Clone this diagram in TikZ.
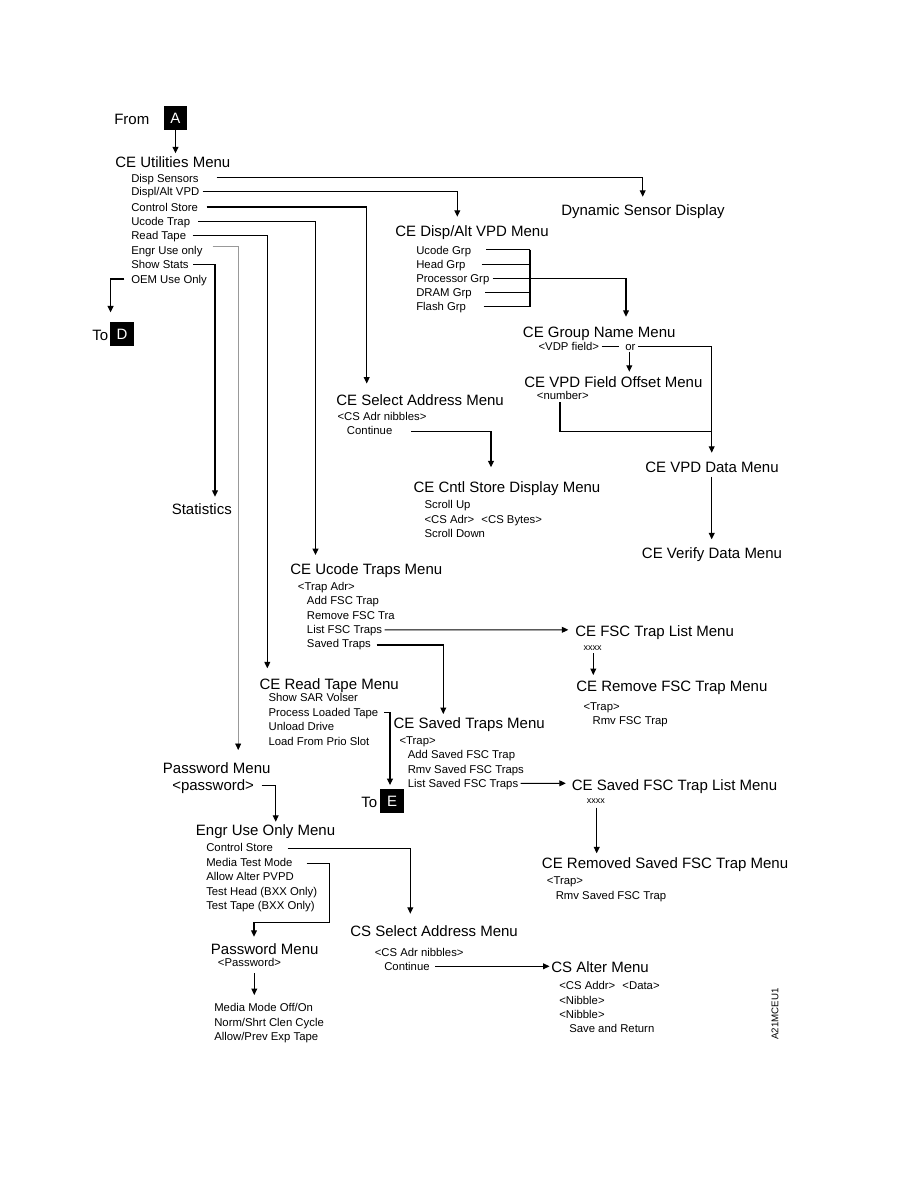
\documentclass[tikz,border=0pt]{standalone}
\usepackage{fontspec}
\setmainfont{Liberation Sans}
\usetikzlibrary{arrows.meta,calc}
\tikzset{
  hd/.style={anchor=west, inner sep=0pt, font=\fontsize{11.25pt}{13pt}\selectfont, text height=8.1pt, text depth=0pt},
  it/.style={anchor=west, inner sep=0pt, font=\fontsize{8.5pt}{10pt}\selectfont, text height=6.1pt, text depth=0pt},
  sm/.style={anchor=west, inner sep=0pt, font=\fontsize{6.75pt}{8pt}\selectfont, text height=3.5pt, text depth=0pt},
  tagbox/.style={fill=black, text=white, inner sep=0pt, minimum width=17.5pt, minimum height=17.5pt, font=\fontsize{11.25pt}{13pt}\selectfont},
  ln/.style={line width=0.8pt, black},
  arr/.style={line width=0.8pt, black, -{Triangle[length=4.8pt,width=4.4pt,color=black]}},
  grayarr/.style={line width=0.5pt, black!40, -{Triangle[length=4.8pt,width=4.4pt,color=black]}}
}
\begin{document}
\begin{tikzpicture}[x=0.75pt,y=-0.75pt]
\fill[white] (0,0) rectangle (918,1188);
\useasboundingbox (0,0) rectangle (918,1188);

% ---------- top ----------
\node[hd] (from) at (114,119.5) {From};
\node[tagbox] (A) at (175.5,118) {A};
\node[hd] (util) at (115,161.7) {CE Utilities Menu};
\node[it] (ds)  at (131,178)   {Disp Sensors};
\node[it] (dv)  at (131,191.7) {Displ/Alt VPD};
\node[it] (cs)  at (131,207)   {Control Store};
\node[it] (ut)  at (131,221.3) {Ucode Trap};
\node[it] (rt)  at (131,235.7) {Read Tape};
\node[it] (eu)  at (131,250)   {Engr Use only};
\node[it] (ss)  at (131,264.3) {Show Stats};
\node[it] (oem) at (131,279)   {OEM Use Only};
\node[hd] (toD) at (92,335) {To};
\node[tagbox] (D) at (122,334) {D};

\node[hd] (dsd) at (561,210) {Dynamic Sensor Display};
\node[hd] (vpd) at (395,231) {CE Disp/Alt VPD Menu};
\node[it] (g1) at (416,250)   {Ucode Grp};
\node[it] (g2) at (416,264.3) {Head Grp};
\node[it] (g3) at (416,278.7) {Processor Grp};
\node[it] (g4) at (416,292.7) {DRAM Grp};
\node[it] (g5) at (416,306.7) {Flash Grp};

\node[hd] (gnm) at (522.7,331.7) {CE Group Name Menu};
\node[it] (vdp) at (538.3,346.7) {<VDP field>};
\node[it] (or)  at (625,346.7) {or};
\node[hd] (fom) at (524,381.7) {CE VPD Field Offset Menu};
\node[it] (num) at (536.7,395) {<number>};
\node[hd] (vdm) at (645,466.7) {CE VPD Data Menu};
\node[hd] (ver) at (641.7,553.3) {CE Verify Data Menu};

\node[hd] (sam) at (336,400) {CE Select Address Menu};
\node[it] (san) at (337.3,416) {<CS Adr nibbles>};
\node[it] (sac) at (346.7,430.7) {Continue};
\node[hd] (csd) at (413.3,487.3) {CE Cntl Store Display Menu};
\node[it] (csd1) at (424.3,504.3) {Scroll Up};
\node[it] (csd2) at (424.3,519.3) {<CS Adr>\hspace{3pt} <CS Bytes>};
\node[it] (csd3) at (424.3,533.3) {Scroll Down};

\node[hd] (stat) at (171.5,509.3) {Statistics};

% ---------- middle ----------
\node[hd] (utm) at (290,569.3) {CE Ucode Traps Menu};
\node[it] (uta) at (297.7,586) {<Trap Adr>};
\node[it] (ut1) at (306.7,600.7) {Add FSC Trap};
\node[it] (ut2) at (306.7,615)   {Remove FSC Tra};
\node[it] (ut3) at (306.7,629.3) {List FSC Traps};
\node[it] (ut4) at (306.7,643.7) {Saved Traps};

\node[hd] (ftl) at (575,630.7) {CE FSC Trap List Menu};
\node[sm] (x1) at (583.3,648) {xxxx};
\node[hd] (rfm) at (576,686) {CE Remove FSC Trap Menu};
\node[it] (rf1) at (583.3,706) {<Trap>};
\node[it] (rf2) at (592.3,720) {Rmv FSC Trap};

\node[hd] (rtm) at (259.3,684) {CE Read Tape Menu};
\node[it] (rt1) at (268.3,697.7) {Show SAR Volser};
\node[it] (rt2) at (268.3,712.3) {Process Loaded Tape};
\node[it] (rt3) at (268.3,726.7) {Unload Drive};
\node[it] (rt4) at (268.3,741)   {Load From Prio Slot};

\node[hd] (stm) at (393.3,723.3) {CE Saved Traps Menu};
\node[it] (st0) at (399.3,740.3) {<Trap>};
\node[it] (st1) at (407.5,754)   {Add Saved FSC Trap};
\node[it] (st2) at (407.5,769)   {Rmv Saved FSC Traps};
\node[it] (st3) at (407.5,783.3) {List Saved FSC Traps};

\node[hd] (sfl) at (571.5,785.5) {CE Saved FSC Trap List Menu};
\node[sm] (x2) at (586.7,801.5) {xxxx};
\node[hd] (rsm) at (541.7,863.3) {CE Removed Saved FSC Trap Menu};
\node[it] (rs1) at (546.7,880.5) {<Trap>};
\node[it] (rs2) at (555.5,895)   {Rmv Saved FSC Trap};

\node[hd] (toE) at (361,802.5) {To};
\node[tagbox] (E) at (392,801) {E};

% ---------- bottom ----------
\node[hd] (pw1)  at (162.7,768.3) {Password Menu};
\node[hd] (pw1p) at (172,785.3) {<password>};
\node[hd] (eum)  at (195.7,830) {Engr Use Only Menu};
\node[it] (eu1) at (206,847.7) {Control Store};
\node[it] (eu2) at (206,862.7) {Media Test Mode};
\node[it] (eu3) at (206,876.7) {Allow Alter PVPD};
\node[it] (eu4) at (206,891.7) {Test Head (BXX Only)};
\node[it] (eu5) at (206,905.7) {Test Tape (BXX Only)};

\node[hd] (csa)  at (350,930.7) {CS Select Address Menu};
\node[it] (csa1) at (374.5,952) {<CS Adr nibbles>};
\node[it] (csa2) at (384,966.3) {Continue};
\node[hd] (alt)  at (551,967.3) {CS Alter Menu};
\node[it] (alt1) at (559,985.7) {<CS Addr>\hspace{3pt} <Data>};
\node[it] (alt2) at (559,1000) {<Nibble>};
\node[it] (alt3) at (559,1014) {<Nibble>};
\node[it] (alt4) at (569,1028.3) {Save and Return};

\node[hd] (pw2)  at (210.7,949) {Password Menu};
\node[it] (pw2p) at (217.7,962.7) {<Password>};
\node[it] (mm1) at (214,1007.3) {Media Mode Off/On};
\node[it] (mm2) at (214,1022)   {Norm/Shrt Clen Cycle};
\node[it] (mm3) at (214,1036)   {Allow/Prev Exp Tape};

\node[inner sep=0pt, rotate=90, font=\fontsize{7.3pt}{8pt}\selectfont] (code) at (775,1014) {A21MCEU1};

% ---------- connectors ----------
\draw[arr] (A.south) -- ($(util.west)+(60.5,-8.4)$);
\draw[arr] ($(ds.west)+(85.7,-0.7)$) -| ($(dsd.west)+(81.7,-13.3)$);
\draw[arr] ($(dv.west)+(71.7,-0.5)$) -| ($(vpd.west)+(62.3,-14.3)$);
\draw[arr] ($(cs.west)+(75.7,0)$) -| ($(sam.west)+(30.7,-16.5)$);
\draw[arr] ($(ut.west)+(67.3,0)$) -| ($(utm.west)+(25.5,-14.3)$);
\draw[arr] ($(rt.west)+(61.7,0)$) -| ($(rtm.west)+(8,-15.7)$);
\draw[grayarr] ($(eu.west)+(81.7,-3.3)$) -| ($(pw1.west)+(75.5,-18.3)$);
\draw[arr] ($(ss.west)+(62.3,0)$) -| ($(stat.west)+(43.5,-12.6)$);
\draw[arr] ($(oem.west)+(-6.7,0)$) -| ($(D.north west)+(0.5,-9.7)$);

\draw[ln] ($(g1.west)+(70,-0.5)$) -- ($(g1.west)+(114,-0.5)$);
\draw[ln] ($(g2.west)+(65.7,0)$) -- ($(g2.west)+(114,0)$);
\draw[ln] ($(g3.west)+(76.7,0)$) -- ($(g3.west)+(114,0)$);
\draw[ln] ($(g4.west)+(69.3,0)$) -- ($(g4.west)+(114,0)$);
\draw[ln] ($(g5.west)+(67.7,0)$) -- ($(g5.west)+(114,0)$);
\draw[ln] ($(g1.west)+(114,-0.5)$) -- ($(g5.west)+(114,0)$);
\draw[arr] ($(g3.west)+(114,0)$) -| ($(gnm.west)+(103.3,-15)$);

\draw[ln] ($(vdp.west)+(63.4,0)$) -- ($(vdp.west)+(81,0)$);
\draw[arr] ($(or.west)+(13.3,0)$) -| ($(vdm.west)+(66.7,-14)$);
\draw[arr] ($(or.west)+(4.3,5)$) -- ($(fom.west)+(105.3,-10)$);
\draw[ln] ($(num.west)+(23.3,7)$) |- ($(vdm.west)+(66.7,-35)$);
\draw[arr] ($(vdm.west)+(66.7,10)$) -- ($(ver.west)+(70,-14)$);

\draw[arr] ($(sac.west)+(64.3,1)$) -| ($(csd.west)+(77.7,-20)$);

\draw[arr] ($(ut3.west)+(78,0.5)$) -- ($(ftl.west)+(-6.7,-0.9)$);
\draw[arr] ($(ut4.west)+(70,1.3)$) -| ($(stm.west)+(50,-9.3)$);
\draw[arr] ($(x1.west)+(10,5.3)$) -- ($(rfm.west)+(17.3,-11)$);

\draw[arr] ($(rt2.west)+(116,0)$) -| ($(E.north)+(-2,-4)$);
\draw[arr] ($(st3.west)+(113,0)$) -- ($(sfl.west)+(-5.7,-2.2)$);
\draw[arr] ($(x2.west)+(10,6)$) -- ($(rsm.west)+(55,-10)$);

\draw[arr] ($(pw1p.west)+(89.7,0)$) -| ($(eum.west)+(80,-8.3)$);
\draw[arr] ($(eu1.west)+(81.7,0.5)$) -| ($(csa.west)+(60.3,-17)$);
\draw[arr] ($(eu2.west)+(100.7,0.5)$) -- ++(22.6,0) |- ($(pw2.west)+(43.3,-26.7)$) -- ($(pw2.west)+(43.3,-12.3)$);
\draw[arr] ($(pw2p.west)+(36.6,10.6)$) -- ($(mm1.west)+(40.3,-12.3)$);
\draw[arr] ($(csa2.west)+(51,0)$) -- ($(alt.west)+(-1.5,-1)$);
\end{tikzpicture}
\end{document}
